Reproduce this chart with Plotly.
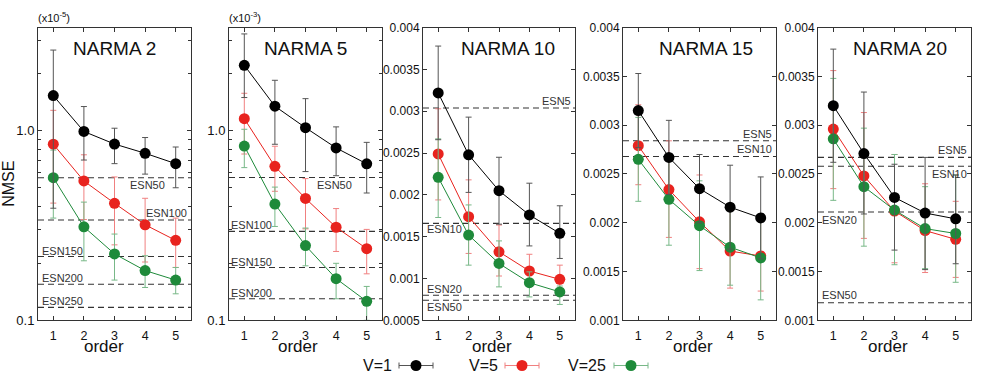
import math
import plotly.graph_objects as go

# ---------------- data ----------------
orders = [1, 2, 3, 4, 5]
series_names = ["V=1", "V=5", "V=25"]
panel_titles = ["NARMA 2", "NARMA 5", "NARMA 10", "NARMA 15", "NARMA 20"]

# NARMA 2 (x10^-5)
n2_v1 = [1.53, 0.99, 0.85, 0.76, 0.67]
n2_v1_hi = [2.66, 1.34, 1.03, 0.92, 0.82]
n2_v1_lo = [0.39, 0.70, 0.67, 0.59, 0.50]
n2_v5 = [0.848, 0.543, 0.414, 0.319, 0.264]
n2_v5_hi = [1.28, 0.746, 0.57, 0.44, 0.346]
n2_v5_lo = [0.415, 0.34, 0.25, 0.203, 0.19]
n2_v25 = [0.565, 0.311, 0.224, 0.183, 0.163]
n2_v25_hi = [0.79, 0.42, 0.285, 0.219, 0.19]
n2_v25_lo = [0.346, 0.206, 0.163, 0.149, 0.138]
n2_esn = [0.565, 0.338, 0.217, 0.155, 0.117]
n2_esn_names = ["ESN50", "ESN100", "ESN150", "ESN200", "ESN250"]

# NARMA 5 (x10^-3)
n5_v1 = [2.22, 1.35, 1.04, 0.813, 0.67]
n5_v1_hi = [3.25, 1.85, 1.48, 1.05, 0.87]
n5_v1_lo = [1.50, 0.85, 0.61, 0.58, 0.47]
n5_v5 = [1.16, 0.65, 0.44, 0.31, 0.239]
n5_v5_hi = [1.58, 0.83, 0.56, 0.389, 0.302]
n5_v5_lo = [0.755, 0.48, 0.304, 0.231, 0.176]
n5_v25 = [0.832, 0.411, 0.248, 0.166, 0.126]
n5_v25_hi = [1.02, 0.505, 0.307, 0.20, 0.151]
n5_v25_lo = [0.64, 0.313, 0.194, 0.13, 0.10]
n5_esn = [0.568, 0.295, 0.19, 0.13]
n5_esn_names = ["ESN50", "ESN100", "ESN150", "ESN200"]

# NARMA 10
n10_v1 = [0.00322, 0.00248, 0.00205, 0.00176, 0.00154]
n10_v1_hi = [0.00378, 0.00293, 0.00245, 0.00214, 0.00187]
n10_v1_lo = [0.00266, 0.00203, 0.00165, 0.00139, 0.00124]
n10_v5 = [0.00249, 0.00174, 0.00132, 0.00109, 0.00099]
n10_v5_hi = [0.00303, 0.00218, 0.00164, 0.00129, 0.00116]
n10_v5_lo = [0.00194, 0.00130, 0.00103, 0.00091, 0.00084]
n10_v25 = [0.00221, 0.00152, 0.00118, 0.00095, 0.00084]
n10_v25_hi = [0.00267, 0.00188, 0.00145, 0.00108, 0.00091]
n10_v25_lo = [0.00173, 0.00116, 0.00090, 0.00078, 0.00069]
n10_esn = [0.00304, 0.00166, 0.00080, 0.00074]
n10_esn_names = ["ESN5", "ESN10", "ESN20", "ESN50"]

# NARMA 15
n15_v1 = [0.00315, 0.00267, 0.00235, 0.00216, 0.00205]
n15_v1_hi = [0.00353, 0.00305, 0.00270, 0.00259, 0.00247]
n15_v1_lo = [0.00277, 0.00229, 0.00200, 0.00173, 0.00163]
n15_v5 = [0.00279, 0.00234, 0.00201, 0.00171, 0.00166]
n15_v5_hi = [0.00321, 0.00284, 0.00249, 0.00216, 0.00204]
n15_v5_lo = [0.00239, 0.00185, 0.00153, 0.00133, 0.00130]
n15_v25 = [0.00265, 0.00224, 0.00197, 0.00175, 0.00164]
n15_v25_hi = [0.00308, 0.00269, 0.00243, 0.00214, 0.00207]
n15_v25_lo = [0.00222, 0.00177, 0.00151, 0.00136, 0.00121]
n15_esn = [0.00284, 0.00268]
n15_esn_names = ["ESN5", "ESN10"]

# NARMA 20
n20_v1 = [0.00320, 0.00271, 0.00226, 0.00210, 0.00204]
n20_v1_hi = [0.00378, 0.00334, 0.00260, 0.00267, 0.00249]
n20_v1_lo = [0.00262, 0.00209, 0.00172, 0.00152, 0.00158]
n20_v5 = [0.00296, 0.00248, 0.00212, 0.00192, 0.00183]
n20_v5_hi = [0.00356, 0.00313, 0.00270, 0.00240, 0.00222]
n20_v5_lo = [0.00235, 0.00184, 0.00159, 0.00149, 0.00144]
n20_v25 = [0.00286, 0.00237, 0.00213, 0.00194, 0.00189]
n20_v25_hi = [0.00348, 0.00297, 0.00270, 0.00237, 0.00249]
n20_v25_lo = [0.00223, 0.00176, 0.00157, 0.00153, 0.00139]
n20_esn = [0.00267, 0.00258, 0.00211, 0.00118]
n20_esn_names = ["ESN5", "ESN10", "ESN20", "ESN50"]

log_ticks = [0.1, 1.0]
log_ticktext = ["0.1", "1.0"]
log_minor = [0.2, 0.3, 0.4, 0.5, 0.6, 0.7, 0.8, 0.9, 2, 3]
lin_ticks = [0.0005, 0.001, 0.0015, 0.002, 0.0025, 0.003, 0.0035, 0.004]
lin_ticktext = ["0.0005", "0.001", "0.0015", "0.002", "0.0025", "0.003", "0.0035", "0.004"]
scale_notes = ["(x10<sup>-5</sup>)", "(x10<sup>-3</sup>)"]

# ---------------- styling / layout ----------------
W, H = 981, 386
FONT = "Liberation Sans, Arial, Helvetica, sans-serif"
col_line = {"V=1": "#000000", "V=5": "#e8231e", "V=25": "#1e8a3a"}
col_err = {"V=1": "#555555", "V=5": "#f08080", "V=25": "#78b888"}

px_x = [(38, 191), (229, 382), (423, 575), (623, 776), (818, 971)]
y_top_px, y_bot_px = 21.5, 326
ydom = [1 - y_bot_px / H, 1 - y_top_px / H]
ranges = [[-1, 0.543], [-1, 0.545], [0.0005, 0.004], [0.001, 0.004], [0.001, 0.004]]
is_log = [True, True, False, False, False]
title_xfrac = [0.5, 0.5, 0.56, 0.545, 0.535]
order_center_px = [104, 298, 492, 693, 888]

# label placement of ESN lines: (x fraction, anchor, vertical shift)
esn_label_pos = [
    [(0.59, "left", -7), (0.99, "right", 7), (0.01, "left", 6), (0.01, "left", 6), (0.01, "left", 6)],
    [(0.56, "left", -8), (0.0, "left", 6), (0.0, "left", 6), (0.0, "left", 6)],
    [(0.99, "right", 7), (0.01, "left", -6), (0.01, "left", 6), (0.01, "left", -7)],
    [(0.99, "right", 7), (0.99, "right", 7)],
    [(0.99, "right", 7), (0.99, "right", -8), (0.01, "left", -8), (0.01, "left", 8)],
]

panels = [
    [(n2_v1, n2_v1_hi, n2_v1_lo), (n2_v5, n2_v5_hi, n2_v5_lo), (n2_v25, n2_v25_hi, n2_v25_lo), n2_esn, n2_esn_names],
    [(n5_v1, n5_v1_hi, n5_v1_lo), (n5_v5, n5_v5_hi, n5_v5_lo), (n5_v25, n5_v25_hi, n5_v25_lo), n5_esn, n5_esn_names],
    [(n10_v1, n10_v1_hi, n10_v1_lo), (n10_v5, n10_v5_hi, n10_v5_lo), (n10_v25, n10_v25_hi, n10_v25_lo), n10_esn, n10_esn_names],
    [(n15_v1, n15_v1_hi, n15_v1_lo), (n15_v5, n15_v5_hi, n15_v5_lo), (n15_v25, n15_v25_hi, n15_v25_lo), n15_esn, n15_esn_names],
    [(n20_v1, n20_v1_hi, n20_v1_lo), (n20_v5, n20_v5_hi, n20_v5_lo), (n20_v25, n20_v25_hi, n20_v25_lo), n20_esn, n20_esn_names],
]

fig = go.Figure()
annotations = []
layout_axes = {}

for i, panel in enumerate(panels):
    k = i + 1
    xa = "x" if k == 1 else f"x{k}"
    ya = "y" if k == 1 else f"y{k}"
    xkey = "xaxis" if k == 1 else f"xaxis{k}"
    ykey = "yaxis" if k == 1 else f"yaxis{k}"
    s1, s5, s25, esn, esn_names = panel

    # ESN dashed reference lines
    for e in esn:
        fig.add_trace(go.Scatter(x=[0.5, 5.5], y=[e, e], mode="lines",
                                 line=dict(color="#333333", width=1.1, dash="6px,4px"),
                                 xaxis=xa, yaxis=ya, showlegend=False, hoverinfo="skip"))
    # series: red, green, black
    for name, (v, hi, lo) in [("V=5", s5), ("V=25", s25), ("V=1", s1)]:
        fig.add_trace(go.Scatter(
            x=orders, y=v, mode="lines+markers", name=name,
            line=dict(color=col_line[name], width=1),
            marker=dict(size=11, color=col_line[name]),
            error_y=dict(type="data", symmetric=False,
                         array=[h - a for h, a in zip(hi, v)],
                         arrayminus=[a - l for a, l in zip(v, lo)],
                         color=col_err[name], thickness=1, width=3),
            xaxis=xa, yaxis=ya, showlegend=False))

    x0, x1 = px_x[i]
    layout_axes[xkey] = dict(
        domain=[x0 / W, x1 / W], range=[0.5, 5.5], tickvals=orders,
        ticks="inside", ticklen=4, tickcolor="#333", showline=True, linecolor="#333",
        linewidth=1, mirror="ticks", showgrid=False, zeroline=False, ticklabelstandoff=4,
        tickfont=dict(size=12.5, color="#111", family=FONT), anchor=ya, fixedrange=True)
    yax = dict(domain=ydom, range=ranges[i], ticks="inside", ticklen=4, tickcolor="#333",
               showline=True, linecolor="#333", linewidth=1, mirror="ticks",
               showgrid=False, zeroline=False, anchor=xa, fixedrange=True,
               tickfont=dict(size=12, color="#111", family=FONT))
    if is_log[i]:
        yax.update(type="log", tickvals=log_ticks, ticktext=log_ticktext,
                   minor=dict(tickvals=log_minor, ticks="inside", ticklen=3, tickcolor="#333", showgrid=False))
        yax["tickfont"]["size"] = 13
    else:
        yax.update(tickvals=lin_ticks, ticktext=lin_ticktext)
    layout_axes[ykey] = yax

    # panel title
    annotations.append(dict(text=panel_titles[i], xref=f"{xa} domain", yref=f"{ya} domain",
                            x=title_xfrac[i], y=0.93, showarrow=False, xanchor="center", yanchor="middle",
                            font=dict(size=19, color="#111", family=FONT)))
    # ESN labels
    for e, nm, (fx, anc, sh) in zip(esn, esn_names, esn_label_pos[i]):
        yv = math.log10(e) if is_log[i] else e
        annotations.append(dict(text=nm, xref=f"{xa} domain", yref=ya, x=fx, y=yv,
                                xanchor=anc, yanchor="middle", yshift=sh, showarrow=False,
                                font=dict(size=11, color="#333", family=FONT)))
    # x title
    annotations.append(dict(text="order", xref="paper", yref="paper", x=order_center_px[i] / W,
                            y=1 - 353 / H, xanchor="center", yanchor="middle", showarrow=False,
                            font=dict(size=17, color="#111", family=FONT)))

# scale notes
for i, note in enumerate(scale_notes):
    annotations.append(dict(text=note, xref="paper", yref="paper", x=(px_x[i][0] - 2) / W, y=1 - 10 / H,
                            xanchor="left", yanchor="middle", showarrow=False,
                            font=dict(size=11, color="#111", family=FONT)))
# NMSE
annotations.append(dict(text="NMSE", xref="paper", yref="paper", x=9 / W, y=1 - 184 / H,
                        textangle=-90, xanchor="center", yanchor="middle", showarrow=False,
                        font=dict(size=16, color="#111", family=FONT)))

# ---------------- legend (separate hidden axis, positions in px) ----------------
leg_text_px = [377, 483, 587]
leg_sym_px = [416, 522, 631]
for name, tx, sx in zip(series_names, leg_text_px, leg_sym_px):
    fig.add_trace(go.Scatter(x=[sx], y=[0.5], mode="markers",
                             marker=dict(size=11, color=col_line[name]),
                             error_x=dict(type="constant", value=17, color=col_err[name], thickness=1, width=3),
                             xaxis="x6", yaxis="y6", showlegend=False, hoverinfo="skip"))
    annotations.append(dict(text=name, xref="x6", yref="y6", x=tx, y=0.5, xanchor="center",
                            yanchor="middle", showarrow=False, font=dict(size=16, color="#111", family=FONT)))
layout_axes["xaxis6"] = dict(domain=[0, 1], range=[0, W], visible=False, fixedrange=True, anchor="y6")
layout_axes["yaxis6"] = dict(domain=[1 - 386 / H, 1 - 360 / H], range=[0, 1], visible=False, fixedrange=True, anchor="x6")

fig.update_layout(width=W, height=H, margin=dict(l=0, r=0, t=0, b=0),
                  paper_bgcolor="white", plot_bgcolor="white",
                  font=dict(family=FONT, color="#111"), showlegend=False,
                  annotations=annotations, **layout_axes)

fig.write_html("out.html", config={"displayModeBar": False},
               post_script="document.body.style.margin='0px';document.body.style.overflow='hidden';")
